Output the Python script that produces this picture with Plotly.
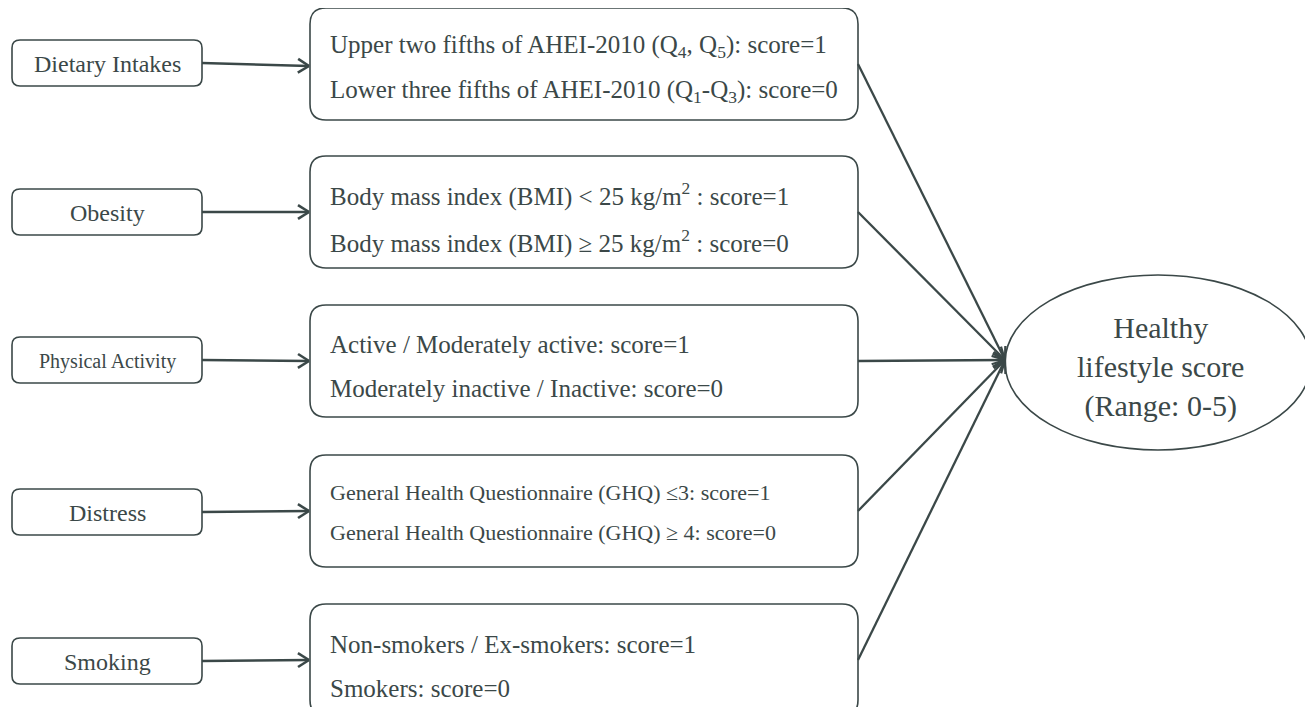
import math
import plotly.graph_objects as go

W, H = 1313, 715
PAD = 8  # default page body margin
INK = "#3b4848"
FONT = "Liberation Serif"

# ---- content ----
factors = ["Dietary Intakes", "Obesity", "Physical Activity", "Distress", "Smoking"]
factor_sizes = [24, 24, 20, 24, 24]
criteria_pos = [
    "Upper two fifths of AHEI-2010 (Q<sub>4</sub>, Q<sub>5</sub>): score=1",
    "Body mass index (BMI) &lt; 25 kg/m<sup>2</sup> : score=1",
    "Active / Moderately active: score=1",
    "General Health Questionnaire (GHQ) ≤3: score=1",
    "Non-smokers / Ex-smokers: score=1",
]
criteria_neg = [
    "Lower three fifths of AHEI-2010 (Q<sub>1</sub>-Q<sub>3</sub>): score=0",
    "Body mass index (BMI) ≥ 25 kg/m<sup>2</sup> : score=0",
    "Moderately inactive / Inactive: score=0",
    "General Health Questionnaire (GHQ) ≥ 4: score=0",
    "Smokers: score=0",
]
criteria_sizes = [25, 25, 25, 22, 25]
outcome = "Healthy<br>lifestyle score<br>(Range: 0-5)"

# ---- layout geometry ----
left_x0, left_x1 = 12, 202
left_cy = [63, 212, 360, 512, 661]
left_h = 46
right_x0, right_x1 = 310, 858
right_y0 = [8, 156, 305, 455, 604]
right_h = 112
line1_dy = [38, 38, 39, 37, 40]
line2_dy = [83, 85, 83, 77, 84]
ell = dict(x0=1005, x1=1311, y0=275, y1=450)
hub = (1005, 360)


def rrect(x0, y0, x1, y1, r):
    return (f"M {x0+r},{y0} L {x1-r},{y0} Q {x1},{y0} {x1},{y0+r} "
            f"L {x1},{y1-r} Q {x1},{y1} {x1-r},{y1} L {x0+r},{y1} "
            f"Q {x0},{y1} {x0},{y1-r} L {x0},{y0+r} Q {x0},{y0} {x0+r},{y0} Z")


shapes = []
annotations = []


def arrow(x0, y0, x1, y1, width, head=13, ang=32):
    shapes.append(dict(type="line", x0=x0, y0=y0, x1=x1, y1=y1,
                       line=dict(color=INK, width=width)))
    dx, dy = x1 - x0, y1 - y0
    L = math.hypot(dx, dy)
    ux, uy = dx / L, dy / L
    for s in (1, -1):
        a = math.radians(ang) * s
        vx = -(ux * math.cos(a) - uy * math.sin(a))
        vy = -(ux * math.sin(a) + uy * math.cos(a))
        shapes.append(dict(type="line", x0=x1, y0=y1, x1=x1 + vx * head, y1=y1 + vy * head,
                           line=dict(color=INK, width=width)))


for i, name in enumerate(factors):
    cy = left_cy[i]
    shapes.append(dict(type="path", path=rrect(left_x0, cy - left_h / 2, left_x1, cy + left_h / 2, 8),
                       line=dict(color=INK, width=1.6), fillcolor="white"))
    annotations.append(dict(x=(left_x0 + left_x1) / 2, y=cy + 1, text=name, showarrow=False,
                            xanchor="center", yanchor="middle",
                            font=dict(family=FONT, size=factor_sizes[i], color=INK)))
    ry0 = right_y0[i]
    shapes.append(dict(type="path", path=rrect(right_x0, ry0, right_x1, ry0 + right_h, 16),
                       line=dict(color=INK, width=1.6), fillcolor="white"))
    annotations.append(dict(x=right_x0 + 18, y=ry0 + line1_dy[i], text=criteria_pos[i], showarrow=False,
                            xanchor="left", yanchor="middle",
                            font=dict(family=FONT, size=criteria_sizes[i], color=INK)))
    annotations.append(dict(x=right_x0 + 18, y=ry0 + line2_dy[i], text=criteria_neg[i], showarrow=False,
                            xanchor="left", yanchor="middle",
                            font=dict(family=FONT, size=criteria_sizes[i], color=INK)))
    ry_mid = ry0 + right_h / 2
    arrow(left_x1, cy, right_x0 - 1, ry_mid + (2 if i == 0 else 0), 2.6)
    arrow(right_x1, ry_mid, hub[0], hub[1], 2.3, head=14, ang=28)

shapes.append(dict(type="circle", **ell, line=dict(color=INK, width=1.6), fillcolor="white", layer="below"))
annotations.append(dict(x=(ell["x0"] + ell["x1"]) / 2 + 2, y=(ell["y0"] + ell["y1"]) / 2 + 4, text=outcome,
                        showarrow=False, xanchor="center", yanchor="middle", align="center",
                        font=dict(family=FONT, size=30, color=INK)))

fig = go.Figure()
fig.update_layout(
    width=W - 2 * PAD, height=H - 2 * PAD, autosize=False,
    margin=dict(l=0, r=0, t=0, b=0),
    paper_bgcolor="white", plot_bgcolor="white",
    xaxis=dict(range=[PAD, W - PAD], visible=False, fixedrange=True),
    yaxis=dict(range=[H - PAD, PAD], visible=False, fixedrange=True),
    shapes=shapes, annotations=annotations, showlegend=False,
)
fig.write_html("out.html", config={"displayModeBar": False})
